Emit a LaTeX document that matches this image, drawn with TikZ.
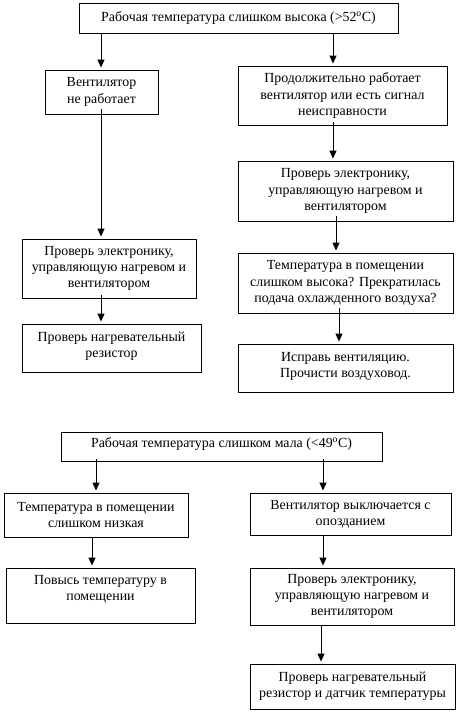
\documentclass[tikz,border=0pt]{standalone}
\usepackage{fontspec}
\setmainfont{Liberation Serif}
\usetikzlibrary{arrows.meta}
\begin{document}
\begin{tikzpicture}[x=1pt,y=-1pt,
  box/.style={draw,line width=0.9pt,rectangle,inner sep=0pt,align=center,
    font=\fontsize{13.9}{16.2}\selectfont},
  arr/.style={line width=0.9pt,-{Triangle[width=7pt,length=8pt]},shorten >=2pt}]
\useasboundingbox (0,0) rectangle (459,713);
% boxes: (left,top) to (right,bottom)
\newcommand{\bx}[6]{\node[box,minimum width={#4-#2},minimum height={#5-#3}] (#1) at ({(#2+#4)/2},{(#3+#5)/2}) {#6};}
\bx{top}{79}{3}{398}{33}{Рабочая температура слишком высока (>52\textsuperscript{o}C)}
\bx{l1}{45}{70}{158}{114}{Вентилятор\\не работает}
\bx{r1}{238}{66}{447}{125}{Продолжительно работает\\вентилятор или есть сигнал\\неисправности}
\bx{r2}{238}{161}{453}{221}{Проверь электронику,\\управляющую нагревом и\\вентилятором}
\bx{l2}{22}{239}{196}{298}{Проверь электронику,\\управляющую нагревом и\\вентилятором}
\bx{l3}{22}{324}{201}{372}{\raisebox{2pt}[\height][\depth]{\begin{tabular}{@{}c@{}}Проверь нагревательный\\резистор\end{tabular}}}
\bx{r3}{238}{253}{453}{313}{Температура в помещении\\слишком высока? Прекратилась\\подача охлажденного воздуха?}
\bx{r4}{238}{344}{453}{392}{\raisebox{2pt}[\height][\depth]{\begin{tabular}{@{}c@{}}Исправь вентиляцию.\\Прочисти воздуховод.\end{tabular}}}
\bx{b1}{61}{432}{382}{461}{\raisebox{2pt}[\height][\depth]{Рабочая температура слишком мала (<49\textsuperscript{o}C)}}
\bx{b2}{4}{493}{188}{537}{Температура в помещении\\слишком низкая}
\bx{b3}{250}{493}{451}{535}{Вентилятор выключается с\\опозданием}
\bx{b4}{6}{568}{195}{623}{\raisebox{6pt}[\height][\depth]{\begin{tabular}{@{}c@{}}Повысь температуру в\\помещении\end{tabular}}}
\bx{b5}{250}{568}{454}{625}{Проверь электронику,\\управляющую нагревом и\\вентилятором}
\bx{b6}{250}{664}{455}{709}{Проверь нагревательный\\резистор и датчик температуры}
% arrows
\draw[arr] (top.south -| 101,0) -- (l1.north -| 101,0);
\draw[arr] (top.south -| 333,0) -- (r1.north -| 333,0);
\draw[arr] ([yshift=5pt]l1.south -| 101,0) -- (l2.north -| 101,0);
\draw[arr] ([yshift=3pt]r1.south -| 333,0) -- (r2.north -| 333,0);
\draw[arr] ([yshift=5pt]r2.south -| 336,0) -- (r3.north -| 336,0);
\draw[arr] ([yshift=3pt]l2.south -| 101,0) -- (l3.north -| 101,0);
\draw[arr] ([yshift=5pt]r3.south -| 339,0) -- (r4.north -| 339,0);
\draw[arr] ([yshift=2pt]b1.south -| 96,0) -- (b2.north -| 96,0);
\draw[arr] ([yshift=2pt]b1.south -| 323,0) -- (b3.north -| 323,0);
\draw[arr] (b2.south -| 92,0) -- (b4.north -| 92,0);
\draw[arr] (b3.south -| 323,0) -- (b5.north -| 323,0);
\draw[arr] (b5.south -| 321,0) -- (b6.north -| 321,0);
\end{tikzpicture}
\end{document}
